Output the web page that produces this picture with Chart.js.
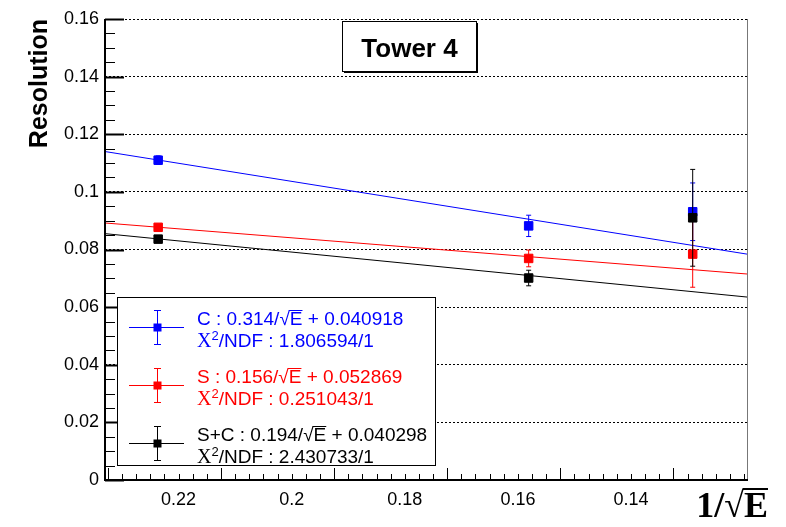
<!DOCTYPE html>
<html>
<head>
<meta charset="utf-8">
<script src="https://cdn.jsdelivr.net/npm/chart.js@4.4.0/dist/chart.umd.min.js"></script>
<style>
  html, body { margin: 0; padding: 0; background: #fff; }
  #wrap { width: 786px; height: 527px; position: relative; }
</style>
</head>
<body>
<div id="wrap"><canvas id="towerChart"></canvas></div>
<script>
// 1/sqrt(E) for the 20, 40 and 60 GeV points
const invSqrtE = [0.2236, 0.1581, 0.1291];

const resC = [0.1110, 0.0882, 0.0931];
const errC = [0.0015, 0.0037, 0.0100];
const resS = [0.0877, 0.0769, 0.0784];
const errS = [0.0010, 0.0029, 0.0115];
const resSC = [0.0836, 0.0701, 0.0910];
const errSC = [0.0010, 0.0027, 0.0168];

// fit lines, value at the left and right edge of the frame
const fitX = [0.2330, 0.1195];
const fitC = [0.1140, 0.0784];
const fitS = [0.0892, 0.0715];
const fitSC = [0.0855, 0.0635];

const xTickLabels = [0.22, 0.2, 0.18, 0.16, 0.14];
const yTickLabels = [0, 0.02, 0.04, 0.06, 0.08, 0.1, 0.12, 0.14, 0.16];

const seriesNames = ['C', 'S', 'S+C'];
const seriesColors = ['#0000ff', '#ff0000', '#000000'];
const slopes = ['0.314', '0.156', '0.194'];
const constants = ['0.040918', '0.052869', '0.040298'];
const chi2 = ['1.806594', '0.251043', '2.430733'];
const ndf = ['1', '1', '1'];

const titleText = 'Tower 4';
const yTitle = 'Resolution';

const SANS = '"Liberation Sans", Arial, Helvetica, sans-serif';
const SERIF = '"Liberation Serif", "Times New Roman", serif';
Chart.defaults.font.family = SANS;
Chart.defaults.color = '#000';

const points = [resC, resS, resSC];
const errors = [errC, errS, errSC];
const fits = [fitC, fitS, fitSC];

const datasets = [];
fits.forEach((fit, i) => {
  datasets.push({
    type: 'line',
    data: fitX.map((x, k) => ({ x, y: fit[k] })),
    borderColor: seriesColors[i],
    borderWidth: 1,
    pointRadius: 0,
    fill: false,
    order: 10 + i,
  });
});
points.forEach((vals, i) => {
  datasets.push({
    type: 'scatter',
    data: invSqrtE.map((x, k) => ({ x, y: vals[k] })),
    backgroundColor: seriesColors[i],
    borderColor: seriesColors[i],
    borderWidth: 1,
    pointStyle: 'rect',
    pointRadius: 6,
    pointHoverRadius: 6,
    seriesIndex: i,
    order: 3 - i,
  });
});

// draws "...√E..." pieces, E gets the radical bar
function drawRich(ctx, segs, x, y) {
  let rootTop = null;
  segs.forEach((s) => {
    ctx.font = s.font;
    const m = ctx.measureText(s.text);
    ctx.fillText(s.text, x, y + (s.dy || 0));
    if (s.root) rootTop = { y: y - m.actualBoundingBoxAscent, x: x + m.width - 1 };
    if (s.bar && rootTop) {
      ctx.beginPath();
      ctx.moveTo(rootTop.x, rootTop.y + s.bar / 2);
      ctx.lineTo(x + m.width, rootTop.y + s.bar / 2);
      ctx.lineWidth = s.bar;
      ctx.strokeStyle = ctx.fillStyle;
      ctx.stroke();
    }
    x += m.width;
  });
  return x;
}

const errorBars = {
  id: 'errorBars',
  beforeDatasetDraw(chart, args) {
    const ds = chart.data.datasets[args.index];
    if (ds.seriesIndex === undefined) return;
    const { ctx, scales: { x, y } } = chart;
    const i = ds.seriesIndex;
    ctx.save();
    ctx.strokeStyle = seriesColors[i];
    ctx.lineWidth = 1;
    ctx.beginPath();
    invSqrtE.forEach((xv, k) => {
      const px = x.getPixelForValue(xv);
      const yTop = y.getPixelForValue(points[i][k] + errors[i][k]);
      const yBot = y.getPixelForValue(points[i][k] - errors[i][k]);
      ctx.moveTo(px, yTop); ctx.lineTo(px, yBot);
      ctx.moveTo(px - 2.5, yTop); ctx.lineTo(px + 2.5, yTop);
      ctx.moveTo(px - 2.5, yBot); ctx.lineTo(px + 2.5, yBot);
    });
    ctx.stroke();
    ctx.restore();
  },
};

const frame = {
  id: 'frame',
  afterDatasetsDraw(chart) {
    const { ctx, chartArea: { left, right, top, bottom }, scales: { x, y } } = chart;
    ctx.save();
    ctx.strokeStyle = '#000';
    // y ticks, pointing into the frame
    for (let k = 0; k <= 32; k++) {
      const py = Math.round(y.getPixelForValue(k * 0.005)) + 0.5;
      const major = k % 4 === 0;
      ctx.lineWidth = major ? 2 : 1;
      ctx.beginPath();
      ctx.moveTo(left, py); ctx.lineTo(left + (major ? 19 : 10), py);
      ctx.stroke();
    }
    // x ticks
    ctx.lineWidth = 1;
    ctx.beginPath();
    for (let k = Math.ceil(fitX[1] / 0.0025); k * 0.0025 <= fitX[0]; k++) {
      const px = Math.round(x.getPixelForValue(k * 0.0025)) + 0.5;
      const len = (k - 5) % 8 === 0 ? 12 : 6;
      ctx.moveTo(px, bottom); ctx.lineTo(px, bottom - len);
    }
    ctx.stroke();
    // right frame edge
    ctx.strokeStyle = '#777';
    ctx.beginPath();
    ctx.moveTo(right + 0.5, top); ctx.lineTo(right + 0.5, bottom);
    ctx.stroke();
    // axis lines
    ctx.strokeStyle = '#000';
    ctx.lineWidth = 2;
    ctx.beginPath();
    ctx.moveTo(left, top); ctx.lineTo(left, bottom + 1);
    ctx.moveTo(left - 1, bottom); ctx.lineTo(right + 1, bottom);
    ctx.stroke();
    ctx.restore();
  },
};

const overlay = {
  id: 'overlay',
  afterDraw(chart) {
    const { ctx } = chart;
    ctx.save();

    // title pave
    ctx.fillStyle = '#fff';
    ctx.fillRect(342.5, 21.5, 134, 50);
    ctx.strokeStyle = '#000';
    ctx.lineWidth = 1;
    ctx.strokeRect(342.5, 21.5, 134, 50);
    ctx.fillStyle = '#000';
    ctx.fillRect(476, 23, 2, 50);
    ctx.fillRect(344, 71, 134, 2);
    ctx.font = `bold 26px ${SANS}`;
    ctx.textAlign = 'center';
    ctx.textBaseline = 'alphabetic';
    ctx.fillText(titleText, 409.5, 57);

    // legend
    ctx.textAlign = 'left';
    ctx.fillStyle = '#fff';
    ctx.fillRect(117, 297, 318, 168);
    ctx.strokeStyle = '#000';
    ctx.strokeRect(117.5, 297.5, 318, 168);
    seriesNames.forEach((name, i) => {
      const cy = 327 + i * 58;
      const color = seriesColors[i];
      ctx.strokeStyle = color;
      ctx.fillStyle = color;
      ctx.lineWidth = 1;
      ctx.beginPath();
      ctx.moveTo(129, cy + 0.5); ctx.lineTo(184, cy + 0.5);
      ctx.moveTo(157.5, cy - 17); ctx.lineTo(157.5, cy + 17);
      ctx.moveTo(154, cy - 16.5); ctx.lineTo(161, cy - 16.5);
      ctx.moveTo(154, cy + 17.5); ctx.lineTo(161, cy + 17.5);
      ctx.stroke();
      ctx.fillRect(153.5, cy - 3.5, 8, 8);

      const f = `19px ${SANS}`;
      drawRich(ctx, [
        { text: `${name} : ${slopes[i]}/`, font: f },
        { text: '\u221A', font: f, root: true },
        { text: 'E', font: f, bar: 1 },
        { text: ` + ${constants[i]}`, font: f },
      ], 197, cy - 2);
      drawRich(ctx, [
        { text: '\u03A7', font: `20px ${SERIF}` },
        { text: '2', font: `13px ${SANS}`, dy: -7 },
        { text: `/NDF : ${chi2[i]}/${ndf[i]}`, font: f },
      ], 197, cy + 20);
    });

    // x axis title 1/sqrt(E)
    ctx.fillStyle = '#000';
    const fx = `bold 36px ${SERIF}`;
    ctx.font = fx;
    const w = ctx.measureText('1/\u221AE').width;
    drawRich(ctx, [
      { text: '1/', font: fx },
      { text: '\u221A', font: fx, root: true },
      { text: 'E', font: fx, bar: 2 },
    ], 768 - w, 517);

    ctx.restore();
  },
};

new Chart(document.getElementById('towerChart'), {
  type: 'scatter',
  data: { datasets },
  options: {
    responsive: true,
    maintainAspectRatio: false,
    animation: false,
    events: [],
    layout: { padding: { top: 19, right: 39, left: 0, bottom: 0 } },
    plugins: {
      legend: { display: false },
      tooltip: { enabled: false },
    },
    scales: {
      x: {
        type: 'linear',
        reverse: true,
        min: fitX[1],
        max: fitX[0],
        afterBuildTicks: (scale) => { scale.ticks = xTickLabels.map((value) => ({ value })); },
        afterFit: (scale) => { scale.height = 47; },
        grid: { display: false },
        border: { display: false },
        ticks: {
          padding: 1,
          maxRotation: 0,
          font: { size: 18 },
          callback: (v) => String(+v.toFixed(3)),
        },
      },
      y: {
        type: 'linear',
        min: 0,
        max: 0.16,
        afterBuildTicks: (scale) => { scale.ticks = yTickLabels.map((value) => ({ value })); },
        afterFit: (scale) => { scale.width = 105; },
        grid: { color: '#000', lineWidth: 1, drawTicks: false },
        border: { display: false, dash: [2, 2] },
        ticks: {
          padding: 6,
          font: { size: 18 },
          callback: (v) => String(+v.toFixed(3)),
        },
        title: {
          display: true,
          text: yTitle,
          align: 'end',
          font: { size: 25, weight: 'bold' },
          padding: { top: 25 },
        },
      },
    },
  },
  plugins: [errorBars, frame, overlay],
});
</script>
</body>
</html>
